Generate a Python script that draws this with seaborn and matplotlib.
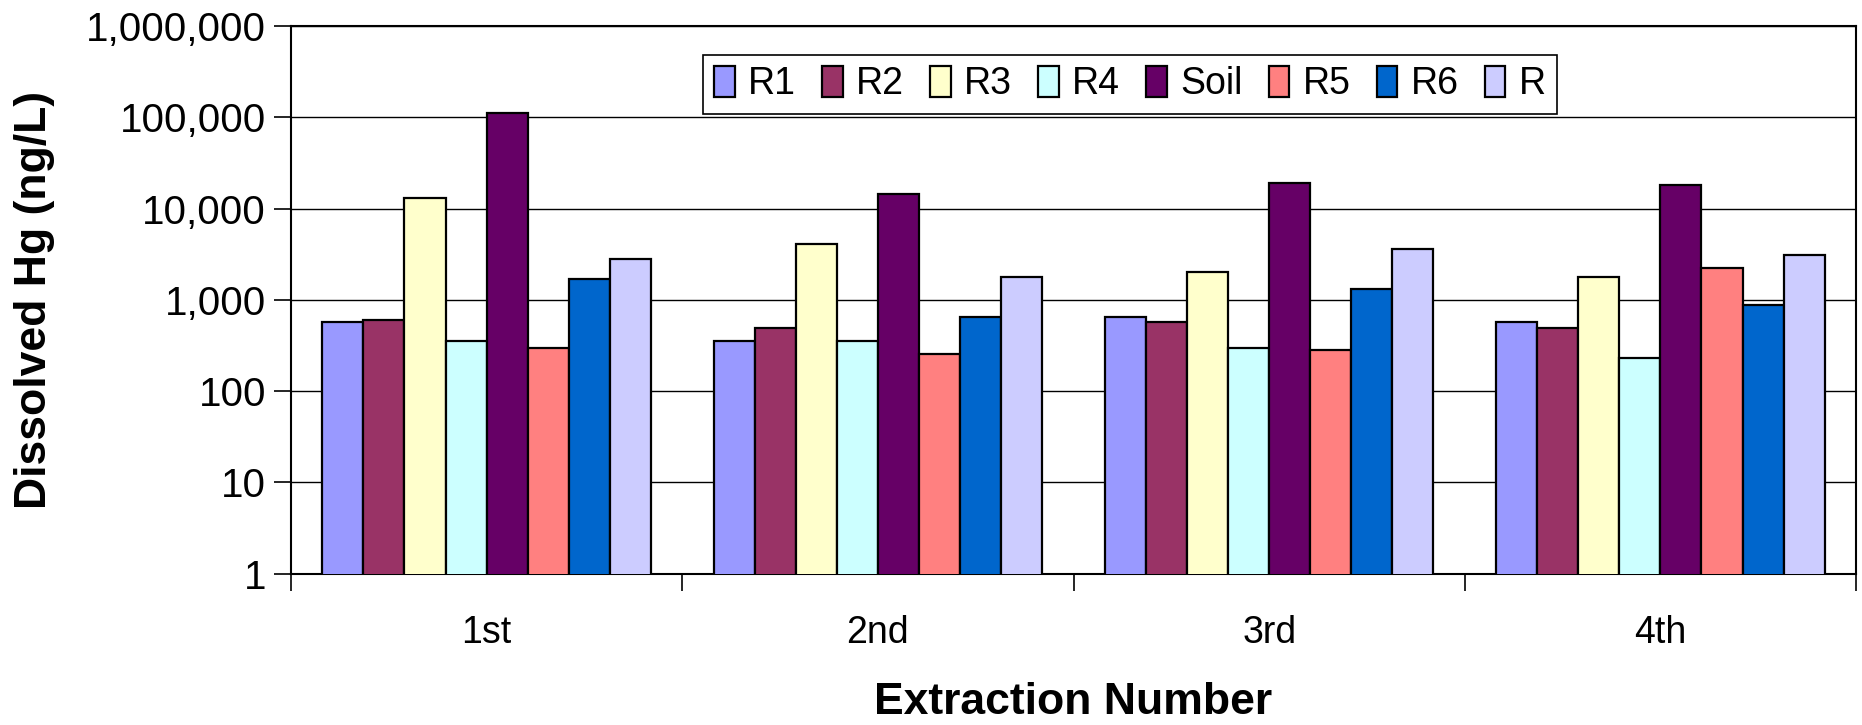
import numpy as np
import pandas as pd
import matplotlib
matplotlib.use("Agg")
import matplotlib.pyplot as plt
import matplotlib.ticker as mticker
import seaborn as sns

# valores (ng/L)
extracoes = ["1st", "2nd", "3rd", "4th"]
series = ["R1", "R2", "R3", "R4", "Soil", "R5", "R6", "R"]
R1 = [577, 352, 646, 574]
R2 = [607, 493, 574, 493]
R3 = [13100, 4100, 2030, 1800]
R4 = [354, 352, 298, 228]
Soil = [110700, 14600, 19100, 18200]
R5 = [299, 254, 284, 2240]
R6 = [1700, 646, 1300, 889]
R = [2830, 1790, 3650, 3080]
cores = ["#9999FF", "#993366", "#FFFFCC", "#CCFFFF", "#660066", "#FF8080", "#0066CC", "#CCCCFF"]

valores = [R1, R2, R3, R4, Soil, R5, R6, R]
tabela = pd.DataFrame({
    "Extracao": extracoes * len(series),
    "Serie": np.repeat(series, len(extracoes)),
    "Valor": np.concatenate(valores),
})

sns.set_style("white")
plt.rcParams["font.family"] = ["Liberation Sans", "DejaVu Sans"]
plt.rcParams["text.color"] = "black"
plt.rcParams["axes.labelcolor"] = "black"
plt.rcParams["xtick.color"] = "black"
plt.rcParams["ytick.color"] = "black"

fig = plt.figure(figsize=(18.62, 7.25), dpi=100)
ax = fig.add_axes([0.1563, 0.2088, 0.8405, 0.7552])
ax.set_yscale("log")

sns.barplot(data=tabela, x="Extracao", y="Valor", hue="Serie", hue_order=series,
            palette=cores, width=0.84, edgecolor="black", linewidth=1.6,
            saturation=1, ax=ax, zorder=3)

ax.set_ylim(1, 1e6)
ax.set_xlim(-0.5, 3.5)
ax.yaxis.set_major_locator(mticker.LogLocator(base=10, numticks=10))
ax.yaxis.set_minor_locator(mticker.NullLocator())
ax.yaxis.set_major_formatter(mticker.FuncFormatter(lambda v, p: f"{v:,.0f}"))
ax.grid(axis="y", color="black", linewidth=1.0, zorder=0)
ax.set_axisbelow(True)

# marcas do eixo x entre as categorias
ax.set_xticks([-0.5, 0.5, 1.5, 2.5, 3.5], minor=True)
ax.tick_params(axis="x", which="minor", bottom=True, length=12, width=1.2, color="black", direction="out")
ax.tick_params(axis="x", which="major", bottom=True, length=0, labelsize=27, pad=30)
ax.tick_params(axis="y", which="major", left=True, length=12, width=1.2, color="black", direction="out",
               labelsize=29, pad=6)

for lado in ["left", "right", "bottom", "top"]:
    ax.spines[lado].set_color("black")
    ax.spines[lado].set_linewidth(1.5)

ax.set_xlabel("Extraction Number", fontsize=32, fontweight="bold", labelpad=22)
ax.set_ylabel("Dissolved Hg (ng/L)", fontsize=32, fontweight="bold", labelpad=22)

handles, labels = ax.get_legend_handles_labels()
ax.legend(handles, labels, loc="upper center", bbox_to_anchor=(0.536, 0.948), ncol=8,
          fontsize=27, frameon=True, fancybox=False, edgecolor="black", framealpha=1,
          handlelength=0.55, handleheight=0.9, handletextpad=0.35, columnspacing=0.7,
          borderpad=0.3, borderaxespad=0)
ax.get_legend().get_frame().set_linewidth(1.2)

plt.savefig("out.png", dpi=100)
